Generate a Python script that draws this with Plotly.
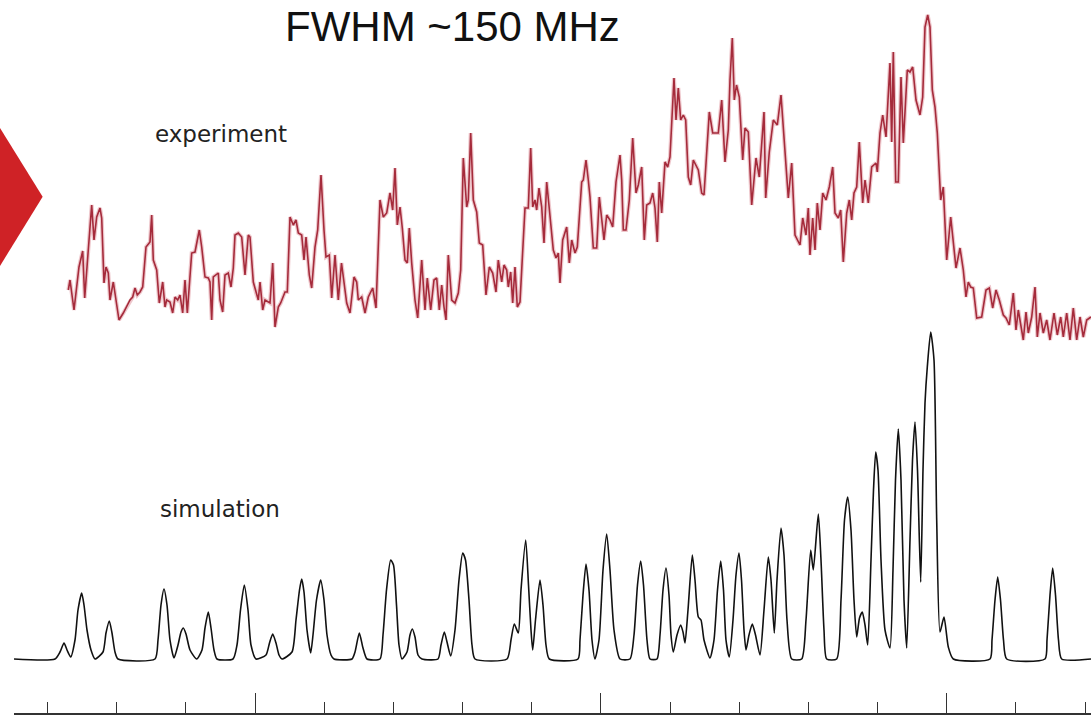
import plotly.graph_objects as go

# ---- experiment trace: frequency (channel) and signal (arb. units) ----
exp_freq = [
    68.3, 70, 74, 79, 82.7, 84.7, 87.3, 91.7, 94, 96.7,
    100, 101.7, 104, 106, 108.3, 110, 113.3, 116, 119, 123.3,
    126.7, 130, 132.7, 135, 137.3, 140, 142.7, 146, 150, 151.7,
    153.3, 156.7, 159.3, 162.7, 165, 166.7, 170, 172.7, 175, 177.7,
    180, 182.7, 185, 187.3, 191.7, 195, 199.3, 201.7, 205, 208.3,
    210, 211.7, 213.3, 218.3, 220, 222.7, 225, 228.3, 231, 233.3,
    235, 238.3, 241.7, 245, 248.3, 250, 253.3, 256, 258.3, 260,
    262.7, 265, 270, 272.7, 275, 278.3, 280.7, 285, 287.3, 290,
    293.3, 296, 298.3, 301.7, 304, 306, 309.3, 311.7, 313.3, 315,
    317.7, 321, 324, 326, 329.3, 331.7, 335, 338.3, 341.5, 346.7,
    350, 354, 356.7, 358.3, 361.7, 365, 368.3, 372.7, 376, 380,
    383.3, 386.7, 390, 392.7, 395, 397.3, 400, 402.3, 405, 407.3,
    409.3, 411.7, 415, 417.7, 421.7, 425, 427.3, 430.7, 434, 436.7,
    439.3, 441.7, 444, 446, 448.3, 451.7, 455, 458.3, 460.7, 463.3,
    466.7, 468.3, 470.7, 473.3, 476.7, 479.3, 482.7, 486, 489.3, 492.7,
    496, 498.3, 501.7, 504, 506.7, 508.3, 510.7, 512.7, 515, 517.3,
    520, 522.7, 525, 528.3, 530.7, 532.7, 535, 536.7, 539, 541.7,
    544, 546.7, 549.3, 550.7, 553.3, 556, 558.3, 560, 562.7, 566.7,
    569.3, 571.7, 575, 577.3, 580, 581.7, 583.3, 586, 588.3, 590,
    593.3, 596.7, 599.3, 601.7, 604, 606.7, 610, 612.7, 616, 620,
    621.7, 623.3, 626, 629.3, 632.7, 636, 638.3, 641.7, 644.3, 646.7,
    650, 652.7, 655, 657.3, 659.3, 661.7, 665, 667.7, 670, 674,
    676, 678.3, 680.7, 683.3, 685.7, 688.3, 690.7, 693.3, 698.3, 701.7,
    704, 709.3, 712.7, 718.3, 721.7, 725, 728.3, 730, 732.3, 734.3,
    736.5, 739.3, 742.7, 745, 748.3, 751.7, 756, 759.3, 764, 765.7,
    769.3, 773.3, 777.3, 781, 783.3, 788.3, 791.7, 795, 800, 802.7,
    806, 808.3, 810, 812.7, 815, 817.3, 820, 822.7, 826, 829.3,
    832.7, 835, 838.3, 840.7, 843.3, 846.7, 849.3, 851.7, 854, 856.7,
    859.3, 862.7, 865, 868.3, 871.7, 876, 877.3, 880, 882.7, 886,
    890, 891.7, 893.3, 895.7, 898.3, 901, 903.3, 907.3, 910, 912.7,
    916, 920, 922.7, 925, 927.7, 930, 932.3, 935, 937.3, 940.7,
    943.3, 946.7, 950.7, 953.3, 956, 960, 963.3, 966, 968.3, 970.7,
    973.3, 976.7, 981.7, 986, 989.3, 992.7, 996, 999.3, 1003.3, 1006,
    1009.3, 1013.3, 1016, 1018.3, 1020.7, 1023.3, 1026, 1028.3, 1031.7, 1035,
    1037.3, 1040, 1043.3, 1046.7, 1050, 1054, 1057.3, 1060.7, 1063.3, 1066.7,
    1070, 1073.3, 1076.7, 1080, 1083.3, 1086.7, 1091,
]
exp_signal = [
    55, 65, 35, 78, 94, 47, 82, 140, 105, 128,
    137, 127, 62, 78, 72, 45, 63, 45, 25, 32,
    38, 45, 48, 57, 50, 53, 58, 98, 103, 130,
    85, 75, 42, 63, 38, 45, 43, 32, 48, 45,
    50, 32, 65, 32, 92, 93, 115, 98, 68, 67,
    63, 25, 68, 72, 45, 33, 70, 72, 58, 77,
    110, 112, 108, 70, 110, 108, 63, 52, 45, 63,
    35, 45, 42, 82, 18, 38, 42, 53, 53, 128,
    120, 125, 112, 110, 85, 108, 70, 57, 75, 98,
    115, 170, 115, 88, 90, 47, 90, 45, 82, 42,
    32, 68, 63, 45, 48, 32, 48, 57, 37, 145,
    128, 132, 152, 135, 177, 120, 138, 117, 85, 82,
    117, 82, 45, 27, 85, 35, 67, 35, 65, 67,
    35, 60, 38, 25, 90, 45, 42, 52, 75, 187,
    138, 145, 212, 145, 133, 102, 100, 50, 78, 72,
    53, 85, 63, 80, 75, 58, 73, 42, 78, 38,
    43, 92, 137, 137, 197, 138, 145, 135, 157, 138,
    102, 163, 135, 118, 95, 87, 92, 62, 105, 118,
    82, 105, 92, 98, 138, 163, 165, 185, 165, 148,
    97, 97, 148, 128, 105, 130, 125, 118, 163, 190,
    165, 115, 115, 145, 207, 152, 160, 178, 105, 140,
    142, 152, 137, 103, 163, 132, 183, 178, 188, 267,
    225, 257, 225, 230, 225, 168, 160, 185, 175, 152,
    150, 233, 212, 212, 245, 183, 215, 265, 307, 245,
    260, 248, 185, 217, 213, 140, 187, 168, 233, 147,
    193, 225, 220, 250, 220, 147, 182, 110, 100, 127,
    110, 137, 90, 127, 95, 142, 115, 152, 145, 158,
    178, 132, 127, 135, 83, 132, 145, 125, 152, 158,
    203, 142, 165, 142, 178, 182, 173, 212, 230, 208,
    282, 203, 293, 163, 163, 268, 202, 275, 273, 278,
    245, 230, 248, 318, 330, 318, 255, 238, 212, 145,
    158, 85, 128, 105, 77, 97, 75, 48, 63, 58,
    57, 27, 28, 55, 57, 37, 55, 45, 30, 27,
    20, 52, 15, 35, 20, 5, 33, 12, 28, 58,
    8, 32, 12, 25, 5, 32, 10, 28, 8, 32,
    5, 37, 5, 28, 8, 25, 28,
]

# ---- simulated spectrum: frequency (channel) and intensity (arb. units) ----
sim_freq = [
    14, 55, 60, 64, 67, 70.7, 75, 78, 81.7, 84,
    87, 91, 95, 103, 106, 109.3, 112, 115, 118, 155,
    158, 161, 164, 167, 170, 174, 178, 181, 183.3, 186,
    190, 196.7, 202, 205, 208.3, 211, 214, 217, 233, 237,
    240.5, 244.3, 248, 251, 256, 266, 269.5, 272.7, 276, 279,
    282, 292, 296, 299.5, 301.7, 304, 307, 310.7, 313, 316.5,
    320.7, 324, 327, 331, 334, 352, 355, 359.3, 363, 367,
    380, 383, 386.5, 390.7, 393.5, 396.5, 399, 402, 407, 410,
    412.3, 415, 418, 422, 438, 441, 444.3, 447, 450.7, 455,
    459, 462.7, 465.5, 469, 472, 475, 507, 511, 514.3, 518.3,
    521, 525.7, 528.5, 531, 532.7, 535.5, 540, 543, 546, 549.3,
    578, 580, 583, 586, 589, 592, 595, 599, 603, 606.7,
    610, 614, 620, 630, 634, 637.5, 640.7, 643.5, 647, 650,
    657, 660, 663, 666, 669, 671, 673.3, 677, 680.7, 683,
    685, 688, 692.3, 695, 698.3, 701, 704, 710, 714, 717.5,
    720.7, 723.5, 726, 729.3, 733, 736, 739, 741.5, 744, 746,
    749, 752.3, 755.5, 760, 764, 768.3, 771, 774.3, 777, 781,
    784, 787, 791.7, 801.7, 806, 810.7, 813.3, 818.3, 821, 824,
    826.7, 836.7, 841, 844.5, 847.7, 851, 854, 856.7, 859.5, 862.3,
    865, 867.7, 871, 873.5, 875.7, 878, 881, 885, 890, 893,
    895.5, 898.3, 901, 904, 906.7, 910, 912.5, 915, 917.5, 920.7,
    923, 925, 927.3, 930.7, 934, 936.7, 940, 944, 948.3, 953.3,
    990, 992, 995, 997.7, 1000.5, 1003.5, 1006.7, 1045, 1047, 1050,
    1052.7, 1055.5, 1058.5, 1061.7, 1091,
]
sim_signal = [
    0, 0, 7, 16, 9, 2, 19, 49, 66, 54,
    29, 9, 0, 7, 26, 38, 26, 7, 0, 0,
    19, 54, 70, 54, 19, 1, 14, 27, 31, 25,
    9, 0, 9, 31, 47, 31, 9, 0, 0, 14,
    49, 74, 49, 14, 0, 4, 16, 25, 16, 4,
    0, 7, 39, 69, 80, 67, 29, 6, 24, 59,
    79, 59, 24, 4, 0, 0, 7, 26, 11, 0,
    0, 24, 69, 99, 94, 54, 14, 0, 7, 24,
    30, 22, 4, 0, 0, 14, 27, 17, 3, 29,
    79, 106, 99, 59, 14, 0, 0, 19, 35, 26,
    69, 119, 74, 29, 9, 39, 79, 54, 14, 0,
    0, 19, 64, 95, 69, 19, 0, 19, 89, 125,
    89, 29, 0, 0, 24, 74, 98, 74, 19, 0,
    0, 24, 69, 91, 64, 24, 7, 24, 34, 27,
    16, 49, 104, 79, 42, 39, 19, 1, 19, 69,
    98, 69, 19, 2, 39, 84, 106, 79, 29, 9,
    24, 35, 24, 4, 49, 102, 79, 26, 79, 131,
    104, 39, 0, 0, 39, 109, 89, 145, 99, 29,
    0, 0, 59, 139, 162, 129, 59, 22, 41, 47,
    34, 14, 99, 169, 207, 189, 99, 29, 11, 89,
    179, 230, 179, 59, 11, 119, 199, 237, 189, 77,
    189, 256, 292, 327, 299, 139, 27, 42, 12, 0,
    0, 19, 59, 82, 59, 19, 0, 0, 19, 64,
    91, 64, 19, 0, 0,
]

assert len(exp_freq) == len(exp_signal)
assert len(sim_freq) == len(sim_signal)

# frequency axis: minor tick every step, major tick every fifth step
tick_origin = 255.0
tick_step = 69.17

exp_color = "#a52b3b"
sim_color = "#111111"

fig = go.Figure()

# soft halo under the measured trace
fig.add_trace(go.Scatter(
    x=exp_freq, y=exp_signal, yaxis="y2", mode="lines",
    line=dict(color="rgba(205,95,110,0.35)", width=4),
    hoverinfo="skip", showlegend=False,
))
fig.add_trace(go.Scatter(
    x=exp_freq, y=exp_signal, yaxis="y2", mode="lines",
    line=dict(color=exp_color, width=1.6),
    name="experiment", showlegend=False,
))
fig.add_trace(go.Scatter(
    x=sim_freq, y=sim_signal, mode="lines",
    line=dict(color=sim_color, width=1.6, shape="spline", smoothing=0.6),
    name="simulation", showlegend=False,
))

label_font = dict(family="DejaVu Sans", size=23, color="#222222")

fig.update_layout(
    width=1091, height=715,
    margin=dict(l=14, r=0, t=0, b=2),
    paper_bgcolor="white", plot_bgcolor="white",
    showlegend=False,
    xaxis=dict(
        range=[14, 1091], showgrid=False, zeroline=False,
        showticklabels=False, showline=True, linecolor="#333333", linewidth=1.6,
        ticks="inside", tick0=tick_origin, dtick=5 * tick_step,
        ticklen=20, tickwidth=1.4, tickcolor="#333333",
        minor=dict(ticks="inside", tick0=tick_origin, dtick=tick_step,
                   ticklen=11, tickwidth=1.4, tickcolor="#333333"),
    ),
    yaxis=dict(range=[-54, 659], visible=False, fixedrange=True),
    yaxis2=dict(range=[-368, 345], visible=False, overlaying="y"),
    annotations=[
        dict(text="FWHM ~150 MHz", xref="x", yref="paper", x=452, y=(713 - 27) / 713,
             xanchor="center", yanchor="middle", showarrow=False,
             font=dict(family="Liberation Sans, Arial, sans-serif",
                       size=42, color="#111111")),
        dict(text="experiment", xref="x", yref="paper", x=221, y=(713 - 134) / 713,
             xanchor="center", yanchor="middle", showarrow=False, font=label_font),
        dict(text="simulation", xref="x", yref="paper", x=220, y=(713 - 509) / 713,
             xanchor="center", yanchor="middle", showarrow=False, font=label_font),
    ],
    shapes=[
        # red pointer at the left edge
        dict(type="path", xref="paper", yref="paper",
             path="M {x0:.4f},0.8205 L {x1:.4f},0.7242 L {x0:.4f},0.6270 Z".format(
                 x0=-14 / 1077, x1=(42.7 - 14) / 1077),
             fillcolor="#cf2226", line=dict(width=0), layer="above"),
    ],
)

fig.write_html("out.html")
